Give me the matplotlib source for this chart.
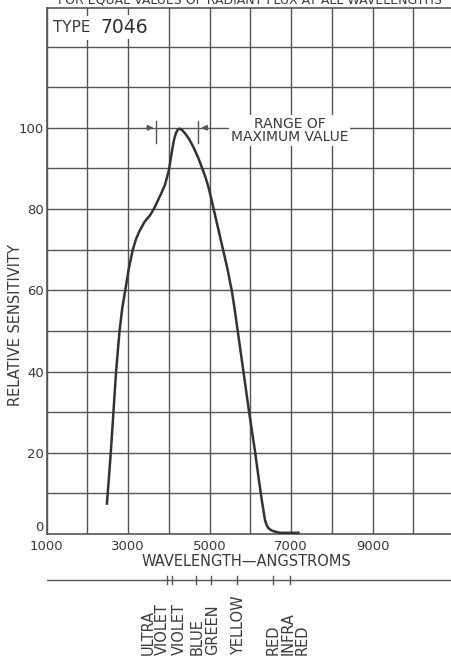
import matplotlib
matplotlib.use('Agg')
import matplotlib.pyplot as plt

# Spectral sensitivity curve
wavelength = [2480, 2500, 2575, 2640, 2705, 2790, 2855, 2930, 3020, 3115, 3190, 3270,
              3400, 3540, 3640, 3735, 3820, 3905, 3960, 4010, 4050, 4095, 4130, 4170,
              4215, 4260, 4320, 4400, 4500, 4600, 4710, 4820, 4900, 4970, 5050, 5100,
              5215, 5330, 5440, 5550, 5620, 5690, 5760, 5830, 5970, 6120, 6200, 6280,
              6320, 6360, 6400, 6440, 6500, 6560, 6730, 7180]
sensitivity = [7.5, 10, 20, 30, 40, 50, 55.5, 60, 65.5, 70, 72.5, 74.4,
               76.8, 78.5, 80.2, 82.2, 84.0, 86.0, 88.0, 90, 92.7, 95.3, 97.2, 98.6,
               99.5, 99.8, 99.5, 98.6, 97.2, 95.3, 92.9, 90, 87.8, 85.5, 82.2, 80,
               75, 70, 65.2, 59.6, 55, 50, 45, 40, 30, 20, 14, 8.4,
               5.9, 3.4, 2.2, 1.5, 1.0, 0.7, 0.3, 0.3]

# Range of maximum value markers
range_lo = 3690
range_hi = 4725

# Colour band below the axis
band_ticks = [3950, 4070, 4670, 5030, 5670, 6560, 6970]
band_labels = ['ULTRA\nVIOLET', 'VIOLET', 'BLUE', 'GREEN', 'YELLOW', 'RED', 'INFRA\nRED']
band_label_pos = [3670, 4250, 4700, 5080, 5710, 6560, 7090]

xticks = [1000, 3000, 5000, 7000, 9000]
yticks = [0, 20, 40, 60, 80, 100]

ink = '#3a3a3a'
grid_c = '#555555'
plt.rcParams['font.family'] = 'DejaVu Sans'

fig = plt.figure(figsize=(4.52, 6.57), dpi=100)
ax = fig.add_axes([0.1031, 0.1872, 0.897, 0.8006])
ax.set_xlim(1000, 10950)
ax.set_ylim(0, 129.5)

# square grid every 1000 A / 10 units
for x in range(1000, 11000, 1000):
    ax.axvline(x, color=grid_c, lw=1.0, zorder=1)
for y in range(10, 131, 10):
    ax.axhline(y, color=grid_c, lw=1.0, zorder=1)

ax.plot(wavelength, sensitivity, color='#333333', lw=1.8, zorder=4,
        solid_joinstyle='round')

ax.spines['right'].set_visible(False)
for s in ['left', 'bottom', 'top']:
    ax.spines[s].set_color(grid_c)
    ax.spines[s].set_linewidth(1.2)

ax.set_xticks(xticks)
ax.set_xticklabels([str(t) for t in xticks])
ax.set_yticks(yticks)
ax.set_yticklabels([str(t) for t in yticks])
ax.tick_params(length=0, labelsize=9.5, labelcolor=ink, pad=4)
ax.tick_params(axis='y', pad=2)
# the "0" sits just above the axis line, clear of "1000"
ax.get_yticklabels()[0].set_va('bottom')

# range of maximum value
for x in [range_lo, range_hi]:
    ax.plot([x, x], [96.3, 101.7], color=grid_c, lw=1.0, zorder=3)
ax.annotate('', xy=(range_lo, 100), xytext=(range_lo - 300, 100),
            arrowprops=dict(arrowstyle='-|>', color=grid_c, lw=1.0, mutation_scale=8))
ax.annotate('', xy=(range_hi, 100), xytext=(range_hi + 300, 100),
            arrowprops=dict(arrowstyle='-|>', color=grid_c, lw=1.0, mutation_scale=8))
ax.text(6960, 99.3, 'RANGE OF\nMAXIMUM VALUE', ha='center', va='center', fontsize=10,
        color=ink, linespacing=0.95, zorder=5,
        bbox=dict(facecolor='white', edgecolor='none', pad=1.5))

# type label
ax.text(1150, 124.6, 'TYPE', ha='left', va='center', fontsize=11, color=ink, zorder=5,
        bbox=dict(facecolor='white', edgecolor='none', pad=3))
ax.text(2320, 124.8, '7046', ha='left', va='center', fontsize=13.5, color='#2e2e2e',
        zorder=5, bbox=dict(facecolor='white', edgecolor='none', pad=2))

fig.text(0.035, 1 - 325 / 657, 'RELATIVE SENSITIVITY', rotation=90, ha='center',
         va='center', fontsize=10.5, color=ink)
fig.text(246 / 452, 1 - 562 / 657, 'WAVELENGTH\u2014ANGSTROMS', ha='center',
         va='center', fontsize=10.5, color=ink)
fig.text(250 / 452, 1.0, 'FOR EQUAL VALUES OF RADIANT FLUX AT ALL WAVELENGTHS',
         ha='center', va='center', fontsize=9, color=ink)

# colour band scale
bx = fig.add_axes([0.1031, 0.0, 0.897, 0.125])
bx.set_xlim(1000, 10950)
bx.set_ylim(0, 82)
bx.axis('off')
bx.plot([1000, 10950], [77, 77], color=grid_c, lw=1.0)
for t in band_ticks:
    bx.plot([t, t], [73, 81], color=grid_c, lw=1.0)
for x, lab in zip(band_label_pos, band_labels):
    bx.text(x, 2, lab, rotation=90, ha='center', va='bottom', multialignment='left',
            fontsize=10.5, color=ink, linespacing=0.9)

fig.savefig('out.png', dpi=100)
